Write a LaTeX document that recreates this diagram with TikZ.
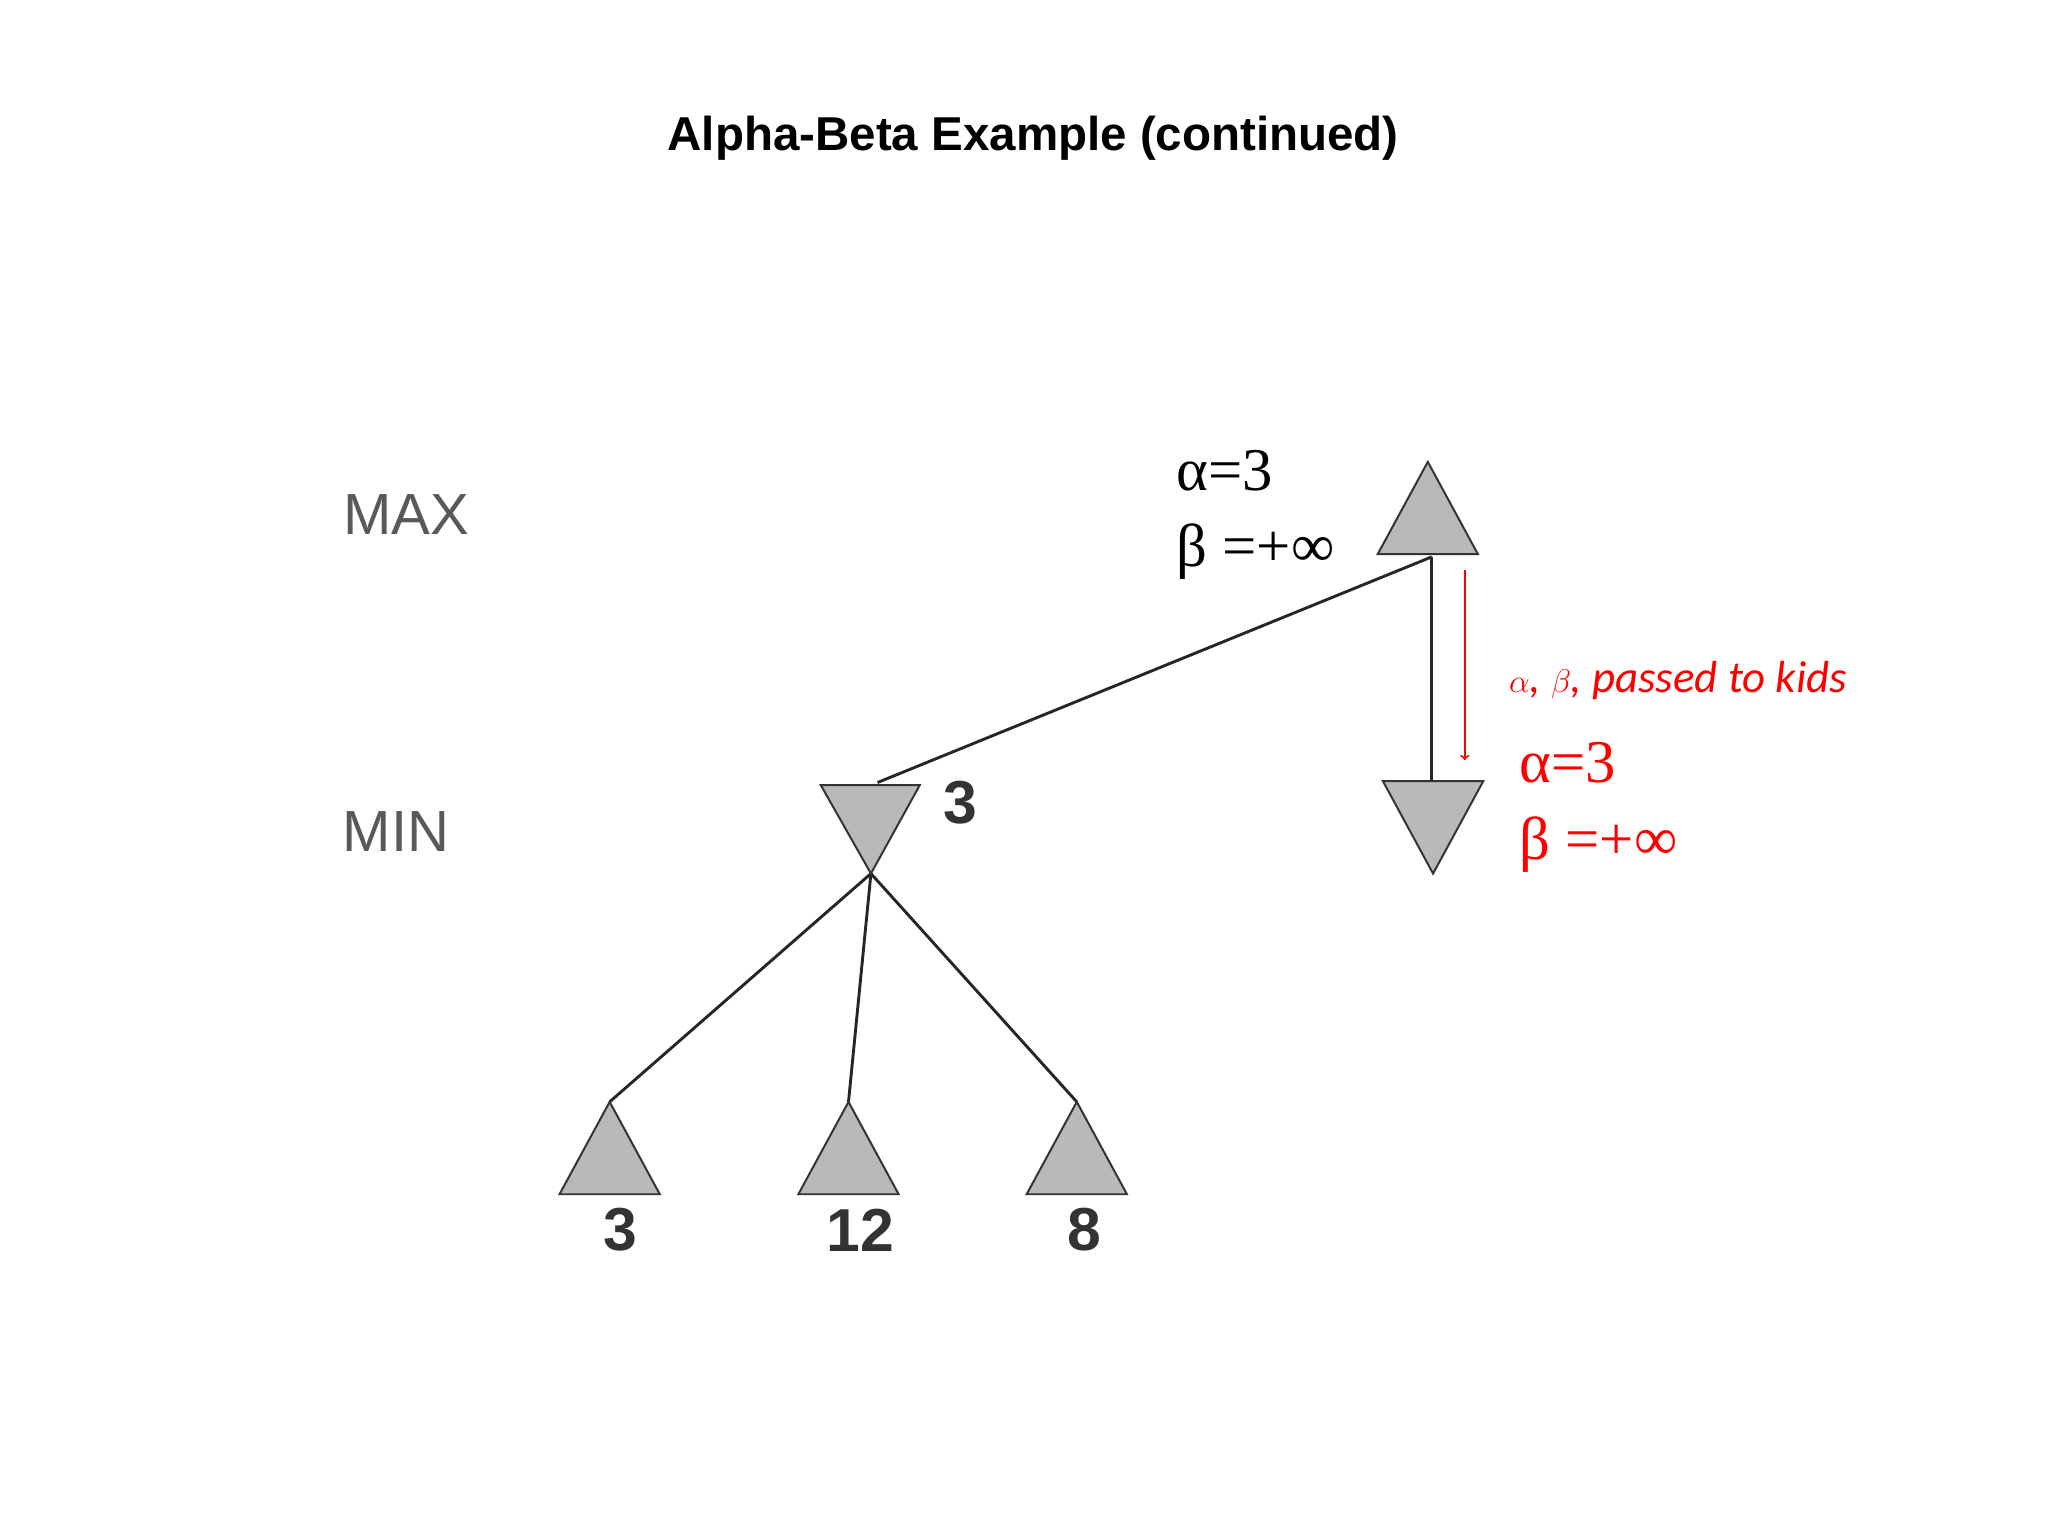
\documentclass[tikz,border=0pt]{standalone}
\usepackage{fontspec}
\setmainfont{Liberation Serif}
\setsansfont{Liberation Sans}
\newfontfamily\callig{Carlito}
\begin{document}
\begin{tikzpicture}[x=1pt,y=-1pt,
  tri/.style={fill=gray!55,draw=black!80,line width=1.5pt,line join=miter},
  edge/.style={draw=black!85,line width=2.2pt},
  lvl/.style={font=\sffamily\fontsize{44}{44}\selectfont,text=black!65},
  val/.style={font=\sffamily\bfseries\fontsize{46}{46}\selectfont,text=black!80},
  ab/.style={font=\fontsize{46}{50}\selectfont,anchor=west}]
\useasboundingbox (0,0) rectangle (1552,1164);
\node[font=\sffamily\bfseries\fontsize{36}{36}\selectfont] (title) at (783,105) {Alpha-Beta Example (continued)};
\node[lvl] (max) at (308,390) {MAX};
\node[lvl] (min) at (300,630) {MIN};
% coordinates
\coordinate (r) at (1085,422);
\coordinate (mlt) at (665,593);
\coordinate (ml) at (660,662);
\coordinate (mrt) at (1085,592);
\coordinate (l1) at (462,835);
\coordinate (l2) at (643,835);
\coordinate (l3) at (816,835);
% edges
\draw[edge] (r) -- (mlt);
\draw[edge] (r) -- (mrt);
\draw[edge] (ml) -- (l1);
\draw[edge] (ml) -- (l2);
\draw[edge] (ml) -- (l3);
% triangles
\draw[tri] (1082,350) -- (1044,420) -- (1120,420) -- cycle;
\draw[tri] (622,595) -- (697,595) -- (660,662) -- cycle;
\draw[tri] (1048,592) -- (1124,592) -- (1086,662) -- cycle;
\draw[tri] (l1) -- (424,905) -- (500,905) -- cycle;
\draw[tri] (l2) -- (605,905) -- (681,905) -- cycle;
\draw[tri] (l3) -- (778,905) -- (854,905) -- cycle;
\node[val] (v0) at (728,608) {3};
\node[val] (v1) at (470,932) {3};
\node[val] (v2) at (652,932) {12};
\node[val] (v3) at (822,932) {8};
% alpha beta
\node[ab] (a1) at (888,357) {α=3};
\node[ab] (b1) at (888,418) {β =+∞};
\node[ab,text=red] (a2) at (1148,578) {α=3};
\node[ab,text=red] (b2) at (1148,640) {β =+∞};
\coordinate (as) at (1110,432);
\coordinate (ae) at (1110,576);
\draw[red,line width=1.5pt,->] (as) -- (ae);
\node[anchor=west,text=red,font=\callig\itshape\fontsize{34}{34}\selectfont] (note) at (1140,516) {$\alpha$, $\beta$, passed to kids};
\end{tikzpicture}
\end{document}
